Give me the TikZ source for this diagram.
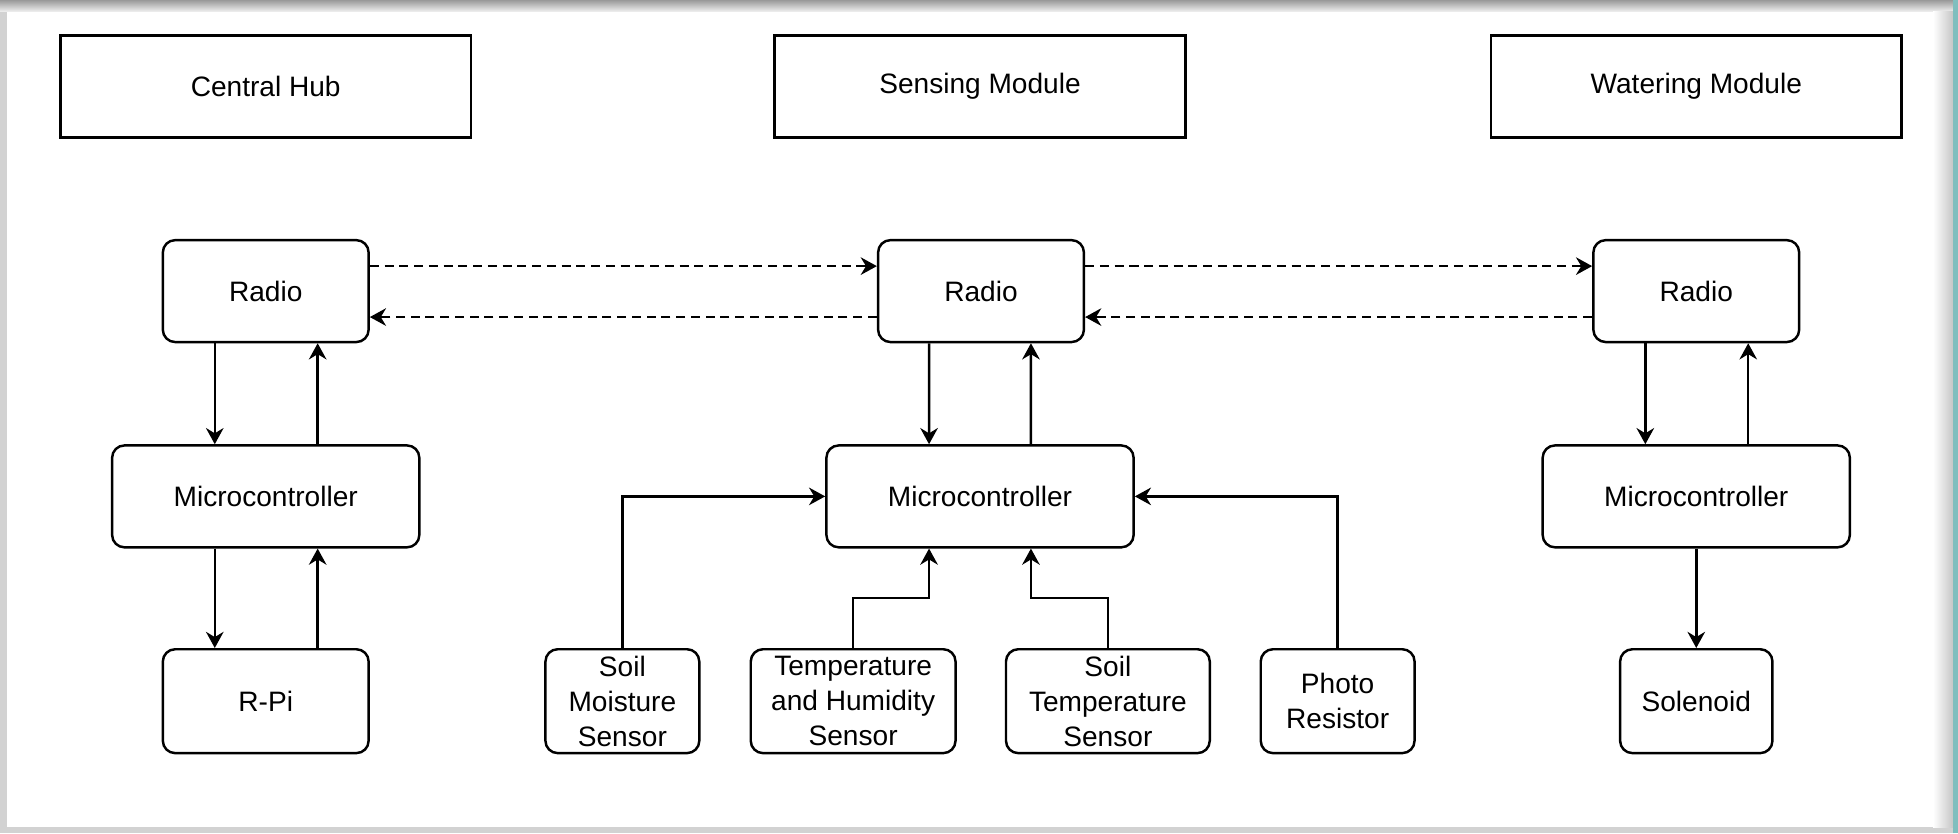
\documentclass[tikz,border=0pt]{standalone}
\usepackage{fontspec}
\setmainfont{Liberation Sans}
\usepackage{tikz}
\usetikzlibrary{arrows.meta}
\usetikzlibrary{backgrounds}
\definecolor{frameteal}{RGB}{128,190,190}

\tikzset{
    titlebox/.style={draw, line width=0.8pt, minimum width=4.11cm, minimum height=1.025cm},
    block/.style={draw, line width=0.7pt, rounded corners=3.5pt, minimum height=1.02cm, inner sep=0pt, align=center},
    link/.style={line width=0.7pt, ->},
    radiolink/.style={line width=0.7pt, ->, dash pattern=on 2.6pt off 1.6pt},
    >={Stealth[length=4.6pt, width=5pt, inset=1.5pt]}
}

\begin{document}
\begin{tikzpicture}[font=\fontsize{8}{10}\selectfont]
    \useasboundingbox (0,0) rectangle (19.6,8.339);

    %window frame
    \fill[gray!35] (0,0) rectangle (19.6,8.339);
    \shade[top color=gray!80, bottom color=gray!10] (0,8.219) rectangle (19.6,8.339);
    \fill[white] (0.07,0.06) rectangle (19.45,8.219);
    \shade[left color=white, right color=gray!45] (19.35,0.06) rectangle (19.55,8.219);
    \fill[frameteal] (19.55,0) rectangle (19.6,8.339);

    %module titles
    \node[titlebox] (hub) at (2.66, 7.475) {Central Hub};
    \node[titlebox] (sensing) at (9.81, 7.475) {Sensing Module};
    \node[titlebox] (watering) at (16.98, 7.475) {Watering Module};

    %radios
    \node[block, minimum width=2.06cm] (radiohub) at (2.66, 5.425) {Radio};
    \node[block, minimum width=2.06cm] (radiosense) at (9.82, 5.425) {Radio};
    \node[block, minimum width=2.06cm] (radiowater) at (16.98, 5.425) {Radio};

    %microcontrollers
    \node[block, minimum width=3.075cm] (mcuhub) at (2.66, 3.37) {Microcontroller};
    \node[block, minimum width=3.075cm] (mcusense) at (9.81, 3.37) {Microcontroller};
    \node[block, minimum width=3.075cm] (mcuwater) at (16.98, 3.37) {Microcontroller};

    %devices
    \node[block, minimum width=2.06cm, minimum height=1.04cm] (rpi) at (2.66, 1.32) {R-Pi};
    \node[block, minimum width=1.54cm, minimum height=1.04cm] (soilmoist) at (6.23, 1.32) {Soil\\Moisture\\Sensor};
    \node[block, minimum width=2.05cm, minimum height=1.04cm] (temphum) at (8.54, 1.32) {Temperature\\and Humidity\\Sensor};
    \node[block, minimum width=2.04cm, minimum height=1.04cm] (soiltemp) at (11.09, 1.32) {Soil\\Temperature\\Sensor};
    \node[block, minimum width=1.54cm, minimum height=1.04cm] (photo) at (13.39, 1.32) {Photo\\Resistor};
    \node[block, minimum width=1.525cm, minimum height=1.04cm] (solenoid) at (16.98, 1.32) {Solenoid};

    %radio links
    \draw[radiolink] ([yshift=2.5mm]radiohub.east) -- ([yshift=2.5mm]radiosense.west);
    \draw[radiolink] ([yshift=-2.6mm]radiosense.west) -- ([yshift=-2.6mm]radiohub.east);
    \draw[radiolink] ([yshift=2.5mm]radiosense.east) -- ([yshift=2.5mm]radiowater.west);
    \draw[radiolink] ([yshift=-2.6mm]radiowater.west) -- ([yshift=-2.6mm]radiosense.east);

    %central hub
    \draw[link] ([xshift=-5.1mm]radiohub.south) -- ([xshift=-5.1mm]mcuhub.north);
    \draw[link] ([xshift=5.2mm]mcuhub.north) -- ([xshift=5.2mm]radiohub.south);
    \draw[link] ([xshift=-5.1mm]mcuhub.south) -- ([xshift=-5.1mm]rpi.north);
    \draw[link] ([xshift=5.2mm]rpi.north) -- ([xshift=5.2mm]mcuhub.south);

    %sensing module
    \draw[link] ([xshift=-5.2mm]radiosense.south) -- ([xshift=-5.1mm]mcusense.north);
    \draw[link] ([xshift=5.1mm]mcusense.north) -- ([xshift=5.0mm]radiosense.south);
    \draw[link] (soilmoist.north) |- (mcusense.west);
    \draw[link] (temphum.north) -- ++(0,0.5) -| ([xshift=-5.1mm]mcusense.south);
    \draw[link] (soiltemp.north) -- ++(0,0.5) -| ([xshift=5.1mm]mcusense.south);
    \draw[link] (photo.north) |- (mcusense.east);

    %watering module
    \draw[link] ([xshift=-5.1mm]radiowater.south) -- ([xshift=-5.1mm]mcuwater.north);
    \draw[link] ([xshift=5.2mm]mcuwater.north) -- ([xshift=5.2mm]radiowater.south);
    \draw[link] (mcuwater.south) -- (solenoid.north);
\end{tikzpicture}
\end{document}
